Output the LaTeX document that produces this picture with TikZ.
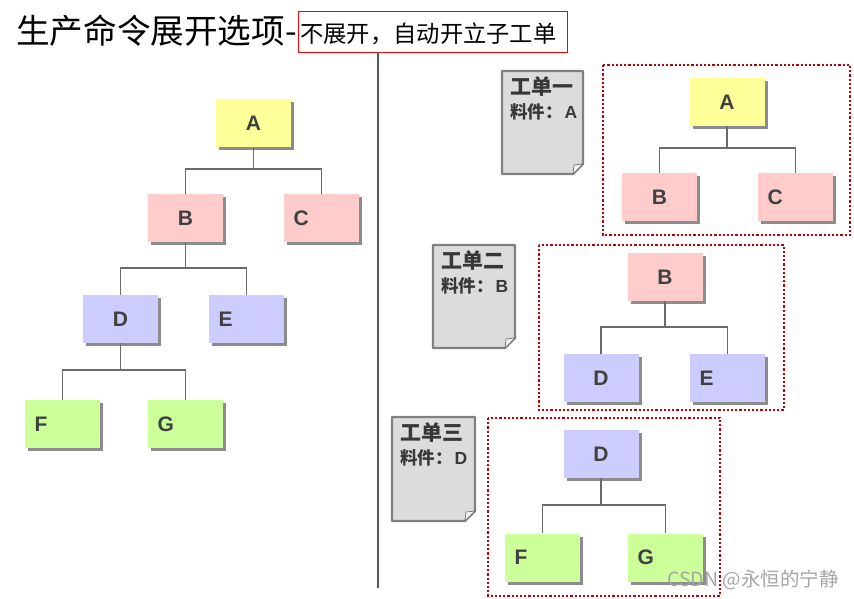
\documentclass[tikz,border=0pt]{standalone}
\usepackage{fontspec}
\setmainfont{Liberation Sans}
\newfontfamily\cjk{Noto Sans CJK SC}
\usetikzlibrary{shadows}
\definecolor{cyel}{HTML}{FFFF99}
\definecolor{cpink}{HTML}{FFCCCC}
\definecolor{cblue}{HTML}{CCCCFF}
\definecolor{cgreen}{HTML}{CCFF99}
\definecolor{cline}{HTML}{6B6B6B}
\definecolor{cdred}{HTML}{C00000}
\definecolor{cdoc}{HTML}{DCDCDC}
\definecolor{cdocb}{HTML}{808080}
\newcommand{\wodoc}[4]{%
  \draw[docst] (#1,#2) -- (#3,#2) -- ({#3},{#4-10}) -- ({#3-10},{#4}) -- (#1,#4) -- cycle;
  \draw[foldst] ({#3},{#4-10}) -- ({#3-10},{#4}) -- ({#3-9},{#4-9}) -- cycle;}
\begin{document}
\begin{tikzpicture}[x=1pt,y=-1pt,
  box/.style={minimum width=75pt, minimum height=48pt, inner sep=0pt,
    font=\fontsize{21}{21}\selectfont\bfseries, text=black!75,
    drop shadow={shadow xshift=3pt, shadow yshift=-3pt, fill=black!45, opacity=1}},
  leaf/.style={box, text width=56pt, align=left, inner xsep=9.5pt},
  conn/.style={draw=cline, line width=1.6pt},
  dotbox/.style={draw=cdred, line width=2.2pt, dotted},
  docst/.style={fill=cdoc, draw=cdocb, line width=2.4pt, line join=round},
  foldst/.style={fill=white!70!cdoc, draw=cdocb, line width=0.8pt},
  doctitle/.style={anchor=north west, inner sep=0pt, font=\cjk\bfseries\fontsize{21}{21}\selectfont, text=black!78},
  docsub/.style={anchor=north west, inner sep=0pt, font=\cjk\bfseries\fontsize{17.5}{17.5}\selectfont, text=black!78}]
\useasboundingbox (0,0) rectangle (854,599);
\fill[white] (0,0) rectangle (854,599);

% title
\node[anchor=west, inner sep=0pt, font=\cjk\fontsize{33.6}{33.6}\selectfont] (title) at (16,31) {生产命令展开选项-};
\node[anchor=west, inner sep=0pt, font=\cjk\fontsize{23.3}{23.3}\selectfont] (sub) at (300,34) {不展开，自动开立子工单};
\draw[red, line width=1pt] (298,12) rectangle (567,53);

% divider
\draw[draw=black!65, line width=1.5pt] (378,52) -- (378,588);

% left tree
\node[box, fill=cyel] (A) at (253.5,123) {A};
\node[box, fill=cpink] (B) at (185.5,218) {B};
\node[leaf, fill=cpink] (C) at (321.5,218) {C};
\node[box, fill=cblue] (D) at (120.5,319) {D};
\node[leaf, fill=cblue] (E) at (246.5,319) {E};
\node[leaf, fill=cgreen] (F) at (62.5,424) {F};
\node[leaf, fill=cgreen] (G) at (185.5,424) {G};
\draw[conn] (A.south) -- ++(0,22) coordinate (jA) -| (B.north);
\draw[conn] (jA) -| (C.north);
\draw[conn] (B.south) -- ++(0,26) coordinate (jB) -| (D.north);
\draw[conn] (jB) -| (E.north);
\draw[conn] (D.south) -- ++(0,27) coordinate (jD) -| (F.north);
\draw[conn] (jD) -| (G.north);

% right: work order 1
\wodoc{502}{71}{583}{174}
\node[doctitle] (t1) at (510,76) {工单一};
\node[docsub] (s1) at (510,103) {料件：\kern2pt{\rmfamily A}};
\draw[dotbox] (603,65) rectangle (850,235);
\node[box, fill=cyel] (A2) at (727,102) {A};
\node[box, fill=cpink] (B2) at (659.5,197) {B};
\node[leaf, fill=cpink] (C2) at (795.5,197) {C};
\draw[conn] (A2.south) -- ++(0,22) coordinate (jA2) -| (B2.north);
\draw[conn] (jA2) -| (C2.north);

% work order 2
\wodoc{433}{245}{515}{348}
\node[doctitle] (t2) at (441,250) {工单二};
\node[docsub] (s2) at (441,277) {料件：\kern2pt{\rmfamily B}};
\draw[dotbox] (539,245) rectangle (784,410);
\node[box, fill=cpink] (B3) at (665,277) {B};
\node[box, fill=cblue] (D3) at (601,378) {D};
\node[leaf, fill=cblue] (E3) at (727.5,378) {E};
\draw[conn] (B3.south) -- ++(0,26) coordinate (jB3) -| (D3.north);
\draw[conn] (jB3) -| (E3.north);

% work order 3
\wodoc{392}{417}{475}{521}
\node[doctitle] (t3) at (400,422) {工单三};
\node[docsub] (s3) at (400,449) {料件：\kern2pt{\rmfamily D}};
\draw[dotbox] (488,418) rectangle (720,596);
\node[box, fill=cblue] (D4) at (601,454) {D};
\node[leaf, fill=cgreen] (F4) at (542.5,557.5) {F};
\node[leaf, fill=cgreen] (G4) at (665.5,557.5) {G};
\draw[conn] (D4.south) -- ++(0,27) coordinate (jD4) -| (F4.north);
\draw[conn] (jD4) -| (G4.north);

% watermark
\node[anchor=west, inner sep=0pt, font=\cjk\fontsize{19.5}{19.5}\selectfont, text=black!35] (wm) at (667,580) {CSDN @永恒的宁静};
\end{tikzpicture}
\end{document}
